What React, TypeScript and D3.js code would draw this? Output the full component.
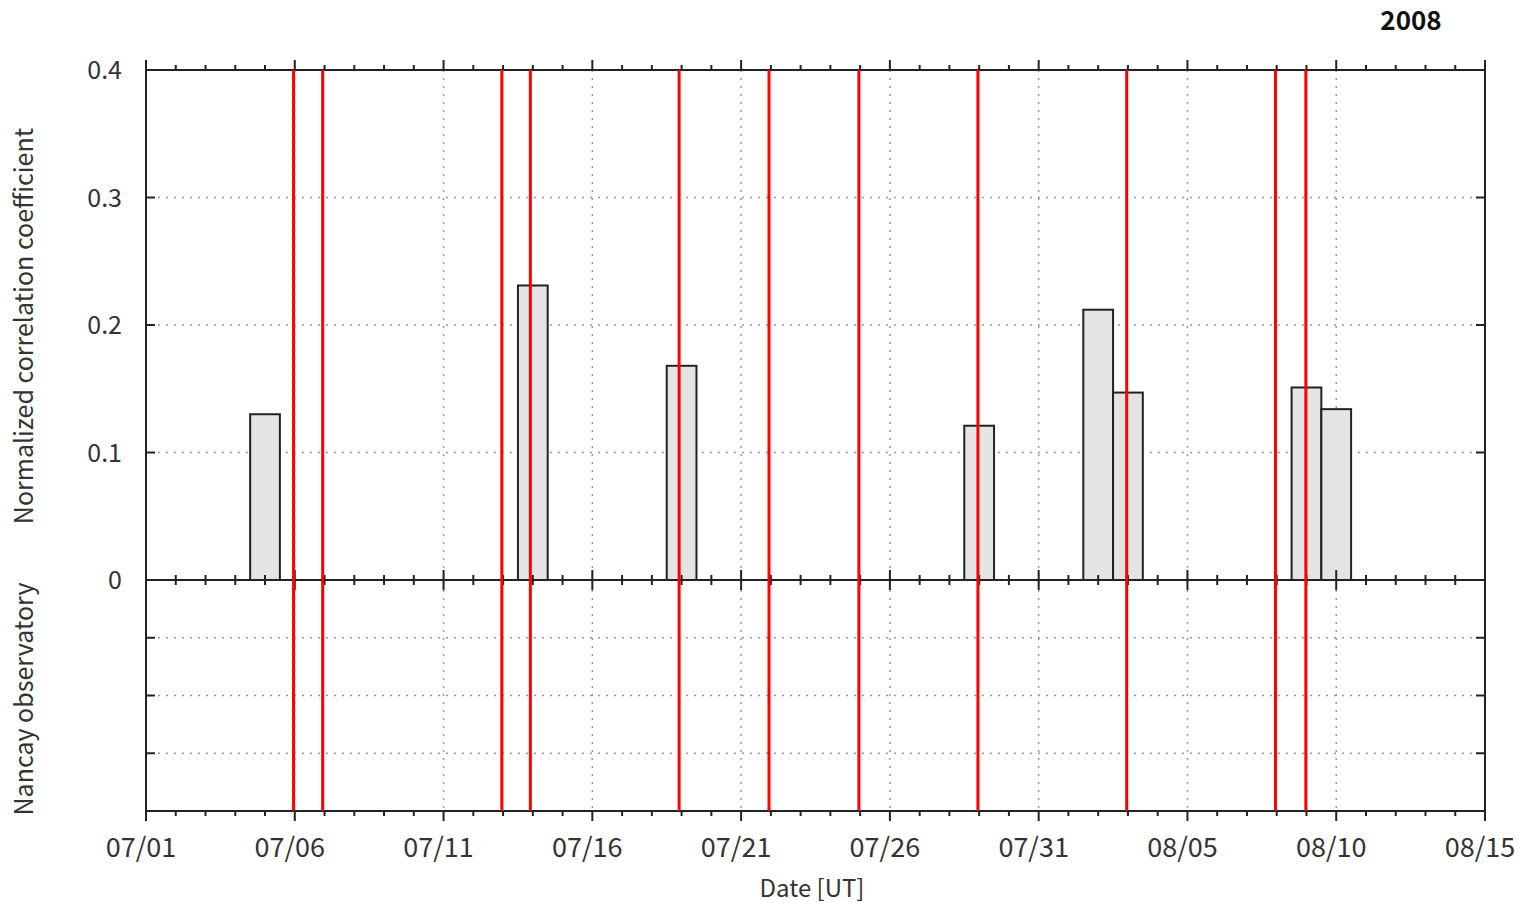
import React from "react";
import * as d3 from "d3";

// bar days (centred on the date) and the correlation value
const barDates = ["2008-07-05", "2008-07-14", "2008-07-19", "2008-07-29", "2008-08-02", "2008-08-03", "2008-08-09", "2008-08-10"];
const barValues = [0.13, 0.231, 0.168, 0.121, 0.212, 0.147, 0.151, 0.134];

// red event markers
const eventTimes = [
  "2008-07-05T23:00", "2008-07-06T22:30", "2008-07-12T23:00", "2008-07-13T22:00",
  "2008-07-18T22:00", "2008-07-21T22:30", "2008-07-24T23:00", "2008-07-28T23:00",
  "2008-08-02T23:00", "2008-08-07T23:00", "2008-08-08T23:30",
];

const yTicks = [0, 0.1, 0.2, 0.3, 0.4];
const lowerTicks = [1, 2, 3];
const xLabelFmt = d3.utcFormat("%m/%d");

const W = 1535;
const H = 903;
const left = 146, right = 1485, top = 70, mid = 580, bottom = 811;
const font = "'Noto Sans CJK JP', 'DejaVu Sans', sans-serif";
const axisColor = "#222";
const textColor = "#333";

const utc = (s: string) => new Date(s + (s.length === 10 ? "T00:00Z" : "Z"));

export default function App() {
  const x = d3.scaleUtc().domain([utc("2008-07-01"), utc("2008-08-15")]).range([left, right]);
  const y = d3.scaleLinear().domain([0, 0.4]).range([mid, top]);
  const yLow = d3.scaleLinear().domain([0, 4]).range([bottom, mid]);

  const dayTicks = x.ticks(d3.utcDay.every(1)!);
  const majorTicks = dayTicks.filter((d) => Math.round((+d - +utc("2008-07-01")) / 864e5) % 5 === 0);
  const isMajor = (d: Date) => majorTicks.some((m) => +m === +d);

  const bars = barDates.map((d, i) => ({ date: utc(d), value: barValues[i] }));
  const events = eventTimes.map(utc);

  return (
    <svg width={W} height={H} style={{ position: "absolute", left: 0, top: 0, background: "#fff" }} fontFamily={font}>
      {/* vertical dotted grid */}
      {majorTicks.filter((d) => x(d) > left + 1 && x(d) < right - 1).map((d) => (
        <line key={"vg" + +d} x1={x(d)} x2={x(d)} y1={top} y2={bottom} stroke="#999" strokeWidth={1.5} strokeDasharray="2 6" />
      ))}
      {/* horizontal dotted grid */}
      {yTicks.slice(1, -1).map((t) => (
        <line key={"hg" + t} x1={left + 12} x2={right - 8} y1={y(t)} y2={y(t)} stroke="#999" strokeWidth={1.5} strokeDasharray="2 6" />
      ))}
      {lowerTicks.map((t) => (
        <line key={"lg" + t} x1={left + 12} x2={right - 8} y1={yLow(t)} y2={yLow(t)} stroke="#999" strokeWidth={1.5} strokeDasharray="2 6" />
      ))}

      {/* bars */}
      {bars.map((b) => (
        <rect
          key={+b.date}
          x={x(d3.utcHour.offset(b.date, -12))}
          width={x(d3.utcHour.offset(b.date, 12)) - x(d3.utcHour.offset(b.date, -12))}
          y={y(b.value)}
          height={y(0) - y(b.value)}
          fill="#e4e4e4"
          stroke={axisColor}
          strokeWidth={2}
        />
      ))}

      {/* frame */}
      <rect x={left} y={top} width={right - left} height={bottom - top} fill="none" stroke={axisColor} strokeWidth={2} />
      <line x1={left} x2={right} y1={mid} y2={mid} stroke={axisColor} strokeWidth={2} />

      {/* x ticks */}
      {dayTicks.map((d) => {
        const m = isMajor(d);
        const xx = x(d);
        const len = m ? 10 : 5;
        return (
          <g key={"xt" + +d} stroke={axisColor} strokeWidth={2}>
            <line x1={xx} x2={xx} y1={top - len} y2={top} />
            <line x1={xx} x2={xx} y1={mid - len} y2={mid + len} />
            <line x1={xx} x2={xx} y1={bottom} y2={bottom + len} />
          </g>
        );
      })}

      {/* y ticks */}
      {yTicks.slice(1, -1).map((t) => (
        <g key={"yt" + t} stroke={axisColor} strokeWidth={2}>
          <line x1={left} x2={left + 9} y1={y(t)} y2={y(t)} />
          <line x1={right - 9} x2={right} y1={y(t)} y2={y(t)} />
        </g>
      ))}
      {lowerTicks.map((t) => (
        <g key={"lt" + t} stroke={axisColor} strokeWidth={2}>
          <line x1={left} x2={left + 9} y1={yLow(t)} y2={yLow(t)} />
          <line x1={right - 9} x2={right} y1={yLow(t)} y2={yLow(t)} />
        </g>
      ))}

      {/* red event lines */}
      {events.map((e) => (
        <line key={"ev" + +e} x1={x(e)} x2={x(e)} y1={top} y2={bottom} stroke="#f00" strokeWidth={3} />
      ))}

      {/* y tick labels */}
      {yTicks.map((t) => (
        <text key={"yl" + t} x={left - 24} y={y(t)} dy="0.36em" textAnchor="end" fontSize={25} fill={textColor}>
          {t === 0 ? "0" : t.toFixed(1)}
        </text>
      ))}

      {/* x tick labels */}
      {majorTicks.map((d) => (
        <text key={"xl" + +d} x={x(d) - 5} y={857} textAnchor="middle" fontSize={27} fill={textColor}>
          {xLabelFmt(d)}
        </text>
      ))}

      <text x={812} y={897} textAnchor="middle" fontSize={24} fill={textColor}>Date [UT]</text>
      <text transform={`translate(33,326) rotate(-90)`} textAnchor="middle" fontSize={25} fill={textColor}>
        Normalized correlation coefficient
      </text>
      <text transform={`translate(33,699) rotate(-90)`} textAnchor="middle" fontSize={25} fill={textColor}>
        Nancay observatory
      </text>
      <text x={1411} y={30} textAnchor="middle" fontSize={26} fontWeight={600} fill="#111">2008</text>
    </svg>
  );
}
